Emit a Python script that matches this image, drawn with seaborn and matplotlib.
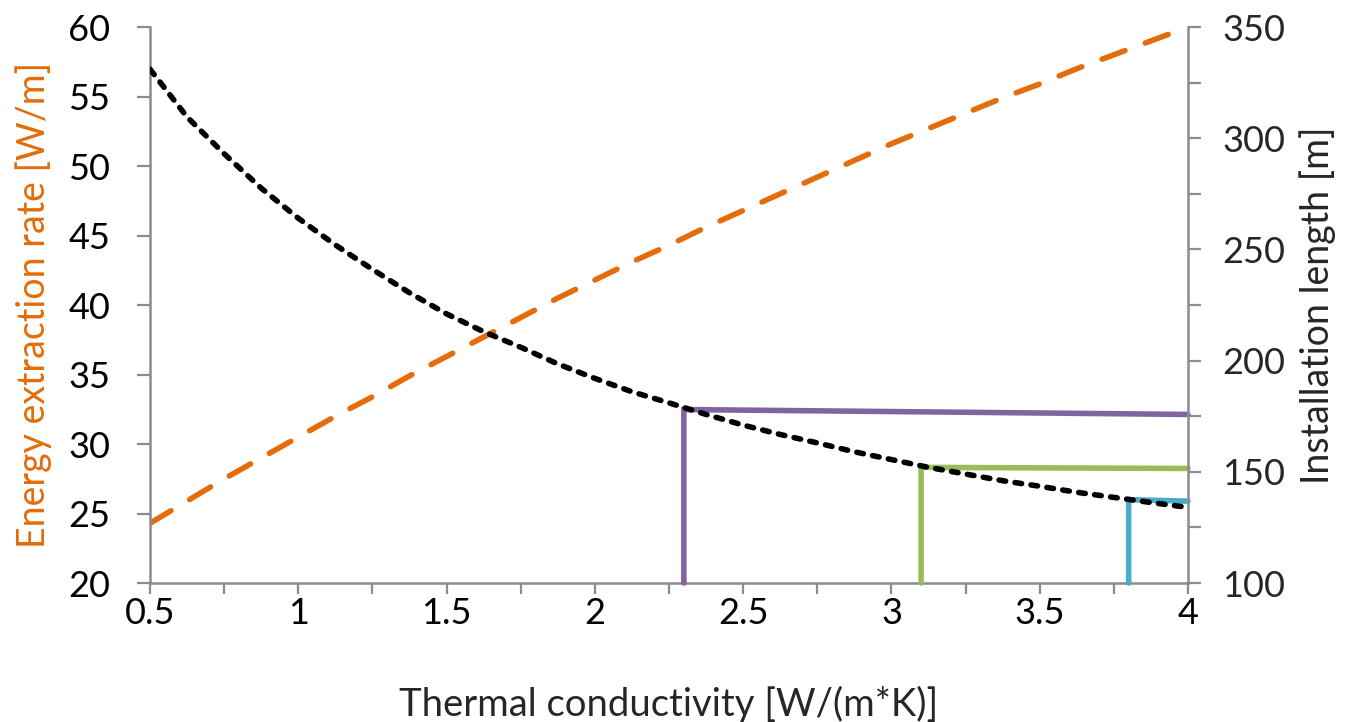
import numpy as np
import pandas as pd
import matplotlib
matplotlib.use('Agg')
import matplotlib.pyplot as plt
import seaborn as sns
from matplotlib.ticker import MultipleLocator

# values
conductivity = [0.5, 0.625, 0.75, 0.875, 1.0, 1.125, 1.25, 1.375, 1.5, 1.625, 1.75, 1.875,
                2.0, 2.125, 2.25, 2.375, 2.5, 2.625, 2.75, 2.875, 3.0, 3.125, 3.25, 3.375,
                3.5, 3.625, 3.75, 3.875, 4.0]
extraction_rate = [24.3, 25.9, 27.5, 29.0, 30.5, 32.0, 33.4, 34.9, 36.3, 37.7, 39.1, 40.5,
                   41.8, 43.1, 44.3, 45.6, 46.8, 48.0, 49.2, 50.4, 51.6, 52.7, 53.8, 54.9,
                   55.9, 57.0, 58.0, 59.0, 60.0]
install_length = [331, 309.5, 293, 277.5, 264, 252, 241, 230.5, 221, 213, 206, 198.5,
                  192, 186, 181, 175.8, 171, 166.8, 163, 159, 155.5, 152, 149, 146,
                  143.5, 140.8, 138.5, 136.2, 134]

# marker lines: x where each meets the curve, length at the curve, length at x = 4
marker_x = [2.3, 3.1, 3.8]
marker_len_start = [178, 152, 137.5]
marker_len_end = [175.8, 151.5, 136.8]
marker_colors = ['#8064A2', '#9BBB59', '#4BACC6']

orange = '#E46C0A'
grey = '#8C8C8C'

sns.set_theme(style='white')
plt.rcParams['font.family'] = ['Lato', 'DejaVu Sans']

df = pd.DataFrame({'k': conductivity, 'rate': extraction_rate, 'length': install_length})

fig = plt.figure(figsize=(13.58, 7.22), dpi=100)
ax = fig.add_axes([0.1105, 0.1925, 0.7643, 0.7701])
ax2 = ax.twinx()

# orange dashed series on left axis
sns.lineplot(data=df, x='k', y='rate', ax=ax, color=orange, linewidth=4)
ax.lines[-1].set_dashes((4.4, 3.9))
ax.lines[-1].set_dash_capstyle('round')

# marker lines on the right axis
for mx, ls, le, c in zip(marker_x, marker_len_start, marker_len_end, marker_colors):
    seg = pd.DataFrame({'k': [mx, mx, 4.0], 'L': [100, ls, le]})
    ax2.plot(seg['k'], seg['L'], color=c, linewidth=4, solid_capstyle='round',
             solid_joinstyle='miter', clip_on=False)

# black dotted series on right axis
sns.lineplot(data=df, x='k', y='length', ax=ax2, color='black', linewidth=4)
ax2.lines[-1].set_dashes((1.2, 1.7))
ax2.lines[-1].set_dash_capstyle('round')

ax.set_xlim(0.5, 4)
ax.set_ylim(20, 60)
ax2.set_ylim(100, 350)

ax.xaxis.set_major_locator(MultipleLocator(0.5))
ax.xaxis.set_minor_locator(MultipleLocator(0.25))
ax.yaxis.set_major_locator(MultipleLocator(5))
ax2.yaxis.set_major_locator(MultipleLocator(50))
ax2.yaxis.set_minor_locator(MultipleLocator(25))
ax.set_xticks(ax.get_xticks())
ax.set_xticklabels([f'{v:g}' for v in ax.get_xticks()])
ax.set_xlim(0.5, 4)

for a in (ax, ax2):
    for s in a.spines.values():
        s.set_visible(False)
ax.spines['left'].set_visible(True)
ax.spines['bottom'].set_visible(True)
ax2.spines['right'].set_visible(True)
for s in (ax.spines['left'], ax.spines['bottom'], ax2.spines['right']):
    s.set_color(grey)
    s.set_linewidth(1.8)

ax.tick_params(axis='both', which='both', direction='out', color=grey, width=1.6,
               labelsize=26, labelcolor='black')
ax.tick_params(axis='x', which='both', length=8, bottom=True, pad=2)
ax.tick_params(axis='y', which='major', length=9.5, left=True, pad=19)
ax2.tick_params(axis='y', which='both', direction='out', color=grey, width=1.6,
                length=9.5, right=True, labelsize=26, pad=15)

ax.set_xlabel('Thermal conductivity [W/(m*K)]', fontsize=27.5, labelpad=40)
ax.set_ylabel('Energy extraction rate [W/m]', fontsize=27, color=orange, labelpad=12)
ax2.set_ylabel('Installation length [m]', fontsize=27, labelpad=10)

ax.grid(False)
ax2.grid(False)

fig.savefig('out.png', dpi=100)
